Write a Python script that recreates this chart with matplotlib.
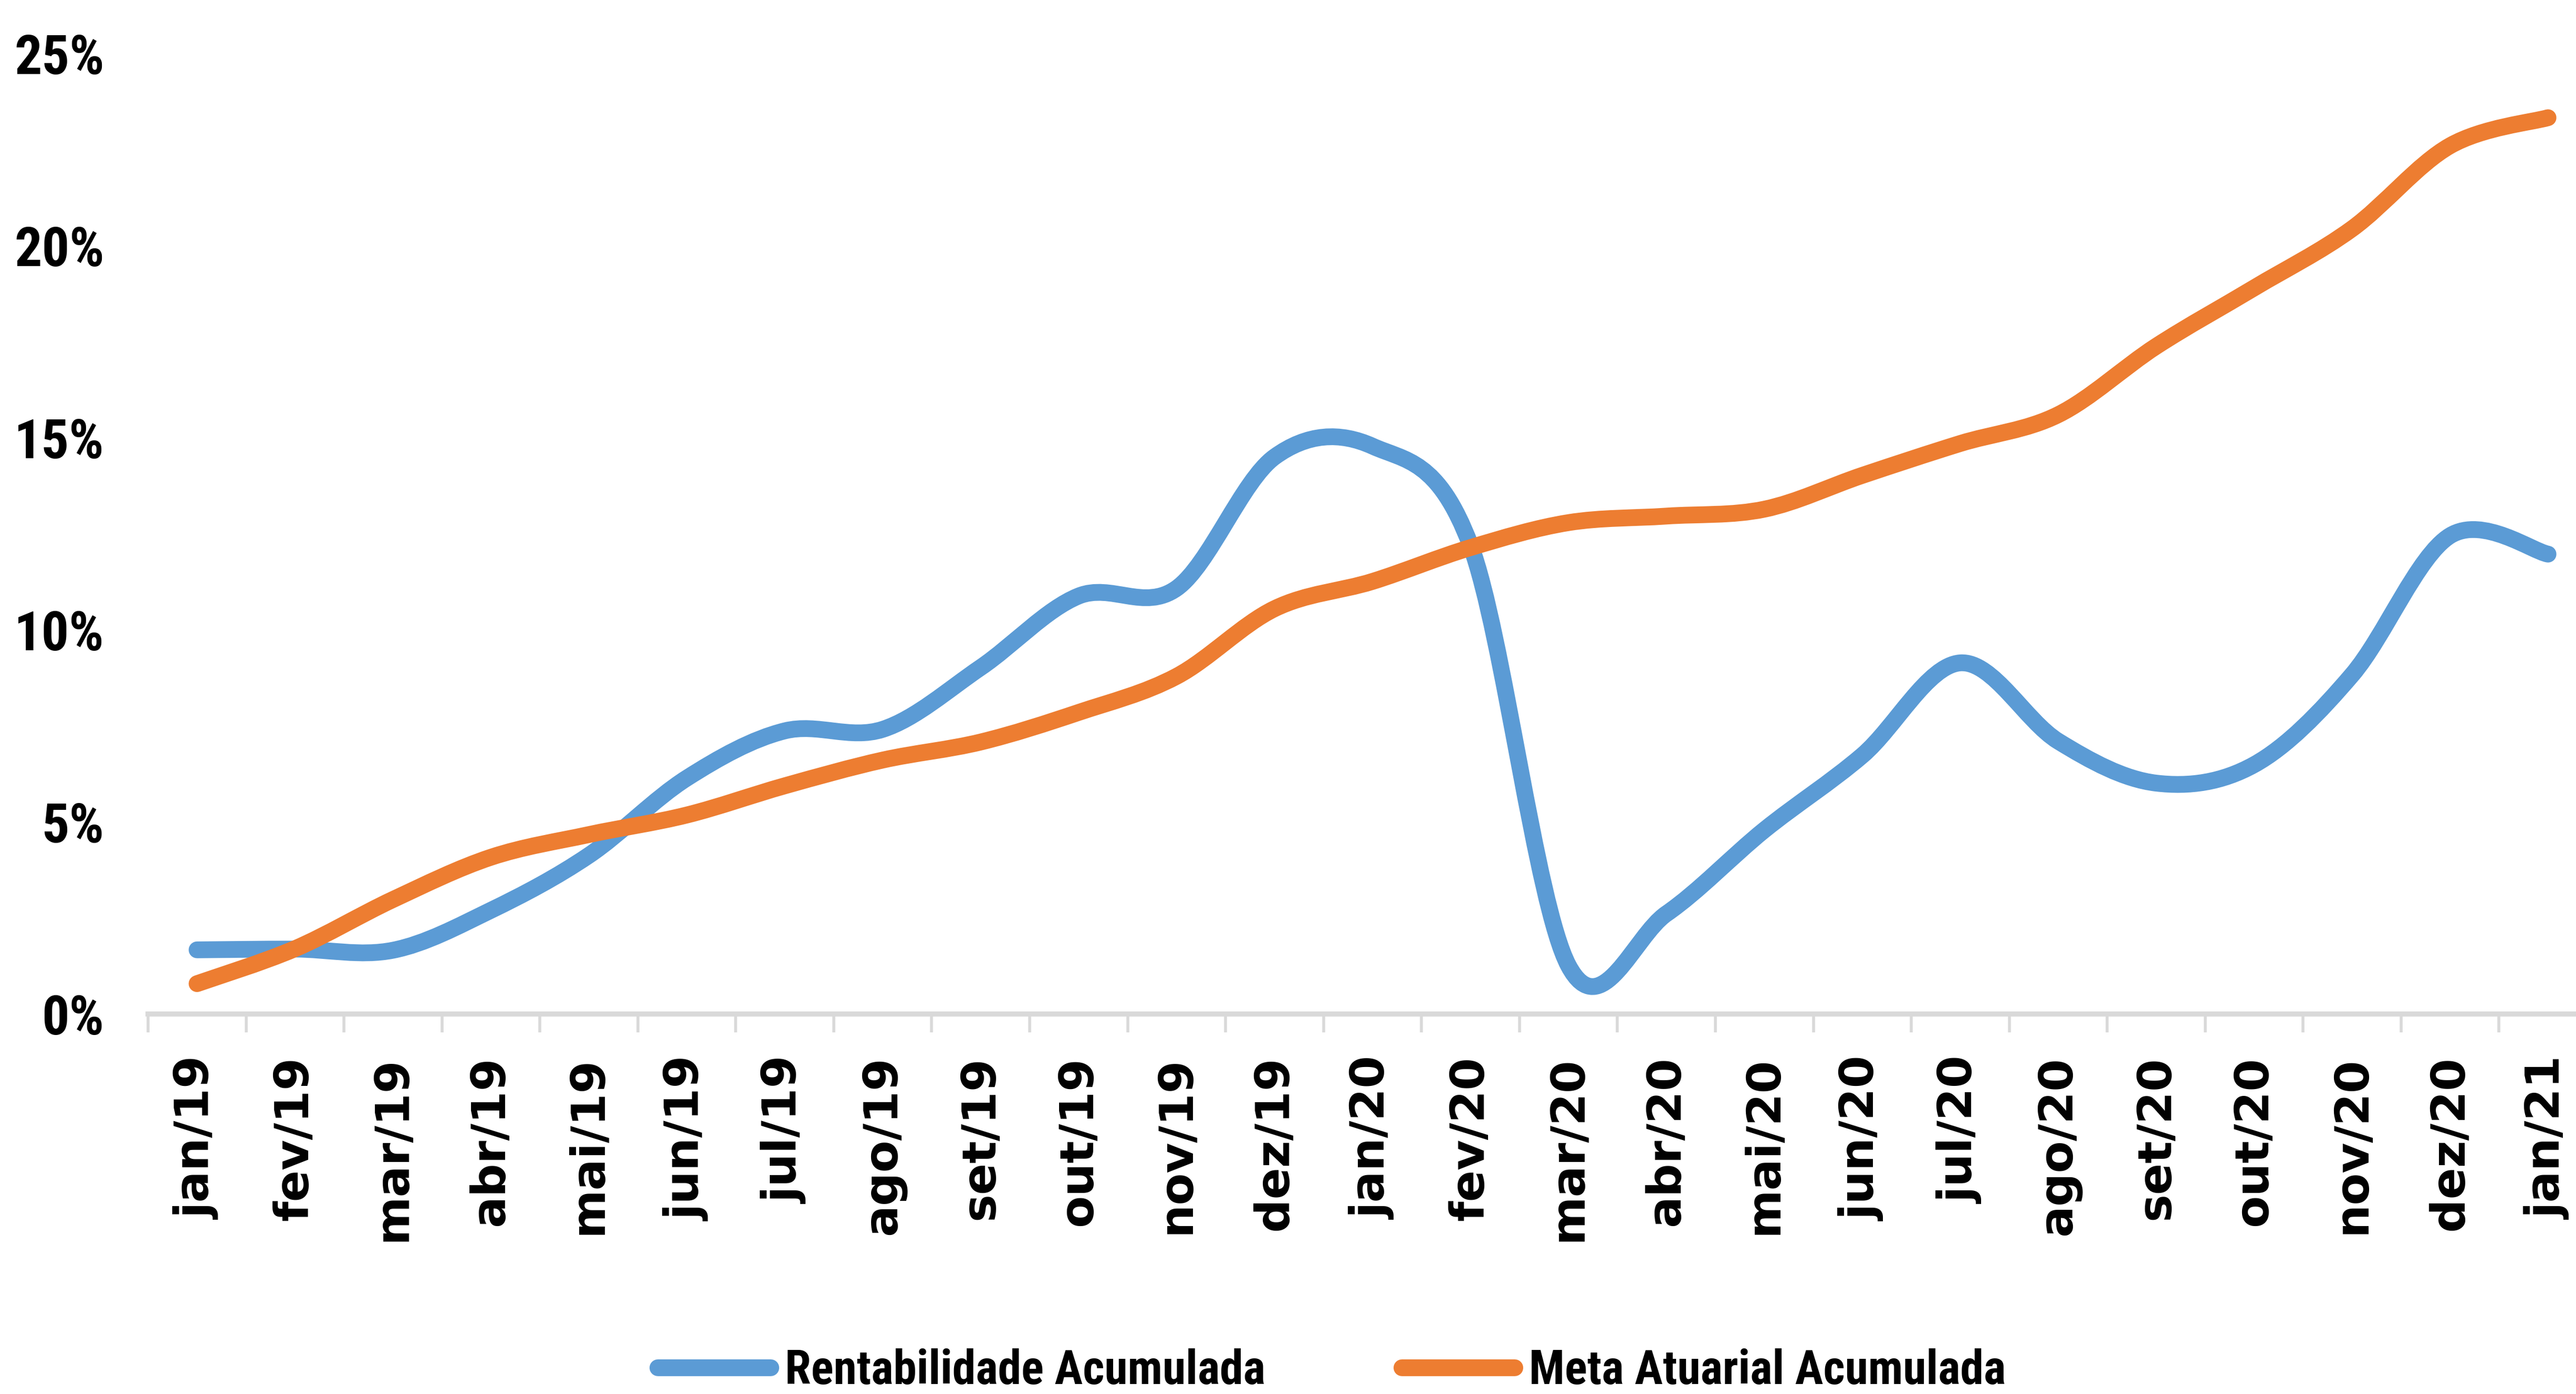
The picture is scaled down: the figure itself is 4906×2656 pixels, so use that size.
import matplotlib
matplotlib.use("Agg")
import matplotlib.pyplot as plt
from matplotlib import font_manager
from matplotlib.path import Path
from matplotlib.patches import PathPatch
from matplotlib.lines import Line2D
from matplotlib.ticker import FixedLocator, FuncFormatter

# ---------------- data ----------------
categories = ["jan/19", "fev/19", "mar/19", "abr/19", "mai/19", "jun/19", "jul/19",
              "ago/19", "set/19", "out/19", "nov/19", "dez/19", "jan/20", "fev/20",
              "mar/20", "abr/20", "mai/20", "jun/20", "jul/20", "ago/20", "set/20",
              "out/20", "nov/20", "dez/20", "jan/21"]
rentabilidade = [1.67, 1.69, 1.66, 2.70, 4.13, 6.14, 7.37, 7.41, 9.02, 10.88, 11.08,
                 14.50, 14.78, 12.20, 1.26, 2.61, 4.79, 6.73, 9.14, 7.10, 6.01, 6.49,
                 8.83, 12.45, 11.97]
meta = [0.79, 1.70, 2.98, 4.08, 4.67, 5.18, 5.94, 6.61, 7.08, 7.85, 8.79, 10.55,
        11.26, 12.14, 12.79, 12.96, 13.14, 14.02, 14.85, 15.60, 17.38, 18.90, 20.44,
        22.60, 23.33]
series_names = ["Rentabilidade Acumulada", "Meta Atuarial Acumulada"]
yticks = [0, 5, 10, 15, 20, 25]

BLUE = "#5B9BD5"
ORANGE = "#ED7D31"
GRID = "#D9D9D9"
WIDE = ["DejaVu Sans"]


def pick_narrow():
    """Find a condensed bold sans face among installed fonts."""
    entries = font_manager.fontManager.ttflist
    names = {e.name for e in entries}
    for fam in ["Liberation Sans Narrow", "Roboto Condensed", "Noto Sans Condensed",
                "Open Sans Condensed", "Noto Sans Display Condensed", "DejaVu Sans Condensed"]:
        if fam in names:
            return {"family": [fam, "DejaVu Sans"], "stretch": "normal"}, 1.0
    for fam in ["Noto Sans", "Open Sans", "Roboto", "DejaVu Sans"]:
        for e in entries:
            if e.name == fam and e.stretch in ("condensed", "extra-condensed",
                                               "semi-condensed", "ultra-condensed"):
                return {"family": [fam, "DejaVu Sans"], "stretch": e.stretch}, 1.0
    for fam in ["DejaVu Sans"]:
        for e in entries:
            if e.name == fam and e.stretch == "condensed":
                return {"family": [fam], "stretch": "condensed"}, 0.95
    return {"family": ["Roboto", "DejaVu Sans"], "stretch": "normal"}, 0.85


NARROW, SCALE = pick_narrow()


def smooth_path(values):
    """Excel-like smoothed line: cubic Bezier through every point."""
    n = len(values)
    pts = [(float(i), float(v)) for i, v in enumerate(values)]
    verts = [pts[0]]
    codes = [Path.MOVETO]
    for i in range(n - 1):
        p0 = pts[i - 1] if i > 0 else pts[i]
        p1 = pts[i]
        p2 = pts[i + 1]
        p3 = pts[i + 2] if i + 2 < n else pts[i + 1]
        c1 = (p1[0] + (p2[0] - p0[0]) / 6.0, p1[1] + (p2[1] - p0[1]) / 6.0)
        c2 = (p2[0] - (p3[0] - p1[0]) / 6.0, p2[1] - (p3[1] - p1[1]) / 6.0)
        verts += [c1, c2, p2]
        codes += [Path.CURVE4, Path.CURVE4, Path.CURVE4]
    return Path(verts, codes)


W, H = 4906, 2656
fig = plt.figure(figsize=(W / 100, H / 100), dpi=100)
left_px, right_px = 282, 4946
bottom_px, top_px = 1932, 102
ax = fig.add_axes([left_px / W, 1 - bottom_px / H,
                   (right_px - left_px) / W, (bottom_px - top_px) / H])

LW = 23
for vals, col in [(rentabilidade, BLUE), (meta, ORANGE)]:
    patch = PathPatch(smooth_path(vals), facecolor="none", edgecolor=col, lw=LW,
                      capstyle="round", joinstyle="round", clip_on=False)
    ax.add_patch(patch)

n = len(categories)
ax.set_xlim(-0.5, n - 0.5)
ax.set_ylim(0, 25)

for s in ["top", "right", "left"]:
    ax.spines[s].set_visible(False)
ax.spines["bottom"].set_color(GRID)
ax.spines["bottom"].set_linewidth(7)

ax.xaxis.set_major_locator(FixedLocator([i - 0.5 for i in range(n + 1)]))
ax.xaxis.set_major_formatter(FuncFormatter(lambda v, p: ""))
ax.set_xticks(list(range(n)), minor=True)
ax.set_xticklabels(categories, minor=True, rotation=90, fontsize=64,
                   fontweight="bold", family=WIDE)
ax.tick_params(axis="x", which="major", length=25, width=4, color=GRID)
ax.tick_params(axis="x", which="minor", length=0, pad=58)

ax.set_yticks(yticks)
ax.set_yticklabels([f"{t}%" for t in yticks], fontsize=75 * SCALE, fontweight="bold",
                   family=NARROW["family"], fontstretch=NARROW["stretch"])
ax.tick_params(axis="y", length=0, pad=60)

handles = [Line2D([0], [0], color=BLUE, lw=LW, solid_capstyle="round"),
           Line2D([0], [0], color=ORANGE, lw=LW, solid_capstyle="round")]
fig.legend(handles, series_names, loc="center", bbox_to_anchor=(0.517, 0.0165),
           ncol=2, frameon=False, handlelength=2.4, handletextpad=0.3,
           columnspacing=2.9, borderpad=0,
           prop={"family": NARROW["family"], "weight": "bold",
                 "size": 64.5 * SCALE, "stretch": NARROW["stretch"]})

fig.savefig("out.png", dpi=100, facecolor="white")
